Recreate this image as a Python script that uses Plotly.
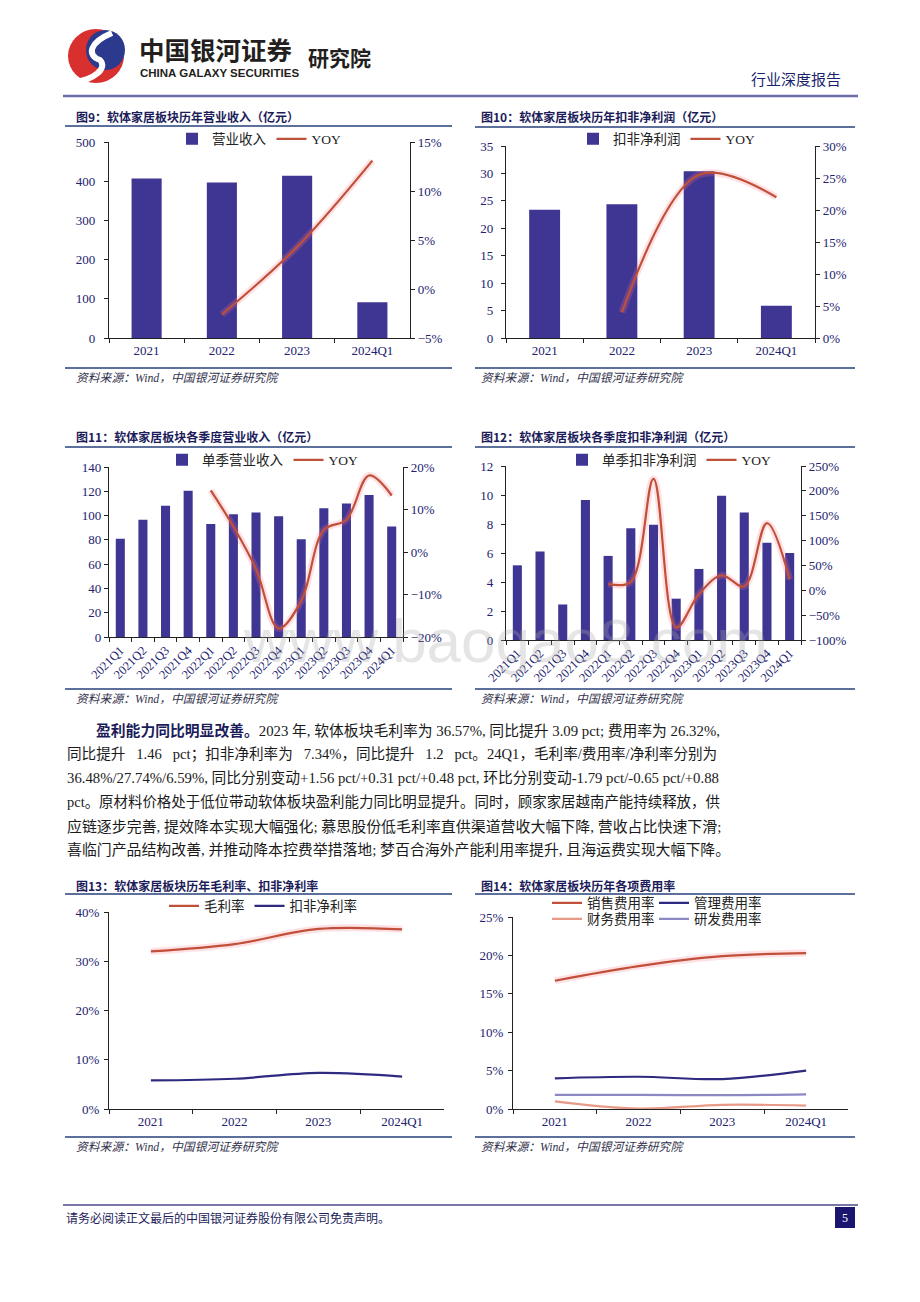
import plotly.graph_objects as go

# ---------------- data ----------------
years = ["2021", "2022", "2023", "2024Q1"]
revenue = [407, 397, 414, 91]
revenue_yoy = [-2.6, 4.3, 13.1]          # from 2022
profit = [23.4, 24.4, 30.4, 5.9]
profit_yoy = [4.0, 25.5, 22.0]           # from 2022

quarters = ["2021Q1", "2021Q2", "2021Q3", "2021Q4", "2022Q1", "2022Q2", "2022Q3",
            "2022Q4", "2023Q1", "2023Q2", "2023Q3", "2023Q4", "2024Q1"]
q_revenue = [81, 96.5, 108, 120.5, 93, 101, 102.5, 99.5, 80.5, 106, 110, 117, 91]
q_revenue_yoy = [14.5, 6.0, -4.0, -18.0, -11.5, 5.2, 7.6, 18.0, 13.3]   # from 2022Q1
q_profit = [5.15, 6.1, 2.45, 9.65, 5.8, 7.7, 7.95, 2.85, 4.9, 9.95, 8.8, 6.7, 6.0]
q_profit_yoy = [13, 17, 224, -75, -8, 30, 8, 135, 22]                   # from 2022Q1

gross_margin = [32.0, 33.48, 36.57, 36.48]
net_margin = [5.8, 6.14, 7.34, 6.59]

sales_rate = [16.7, 18.6, 19.9, 20.3]
admin_rate = [4.0, 4.2, 3.9, 5.0]
fin_rate = [1.0, 0.05, 0.55, 0.45]
rnd_rate = [1.85, 1.85, 1.8, 1.9]

titles = ["图9：软体家居板块历年营业收入（亿元）",
          "图10：软体家居板块历年扣非净利润（亿元）",
          "图11：软体家居板块各季度营业收入（亿元）",
          "图12：软体家居板块各季度扣非净利润（亿元）",
          "图13：软体家居板块历年毛利率、扣非净利率",
          "图14：软体家居板块历年各项费用率"]
source_text = "资料来源：Wind，中国银河证券研究院"

NB = "\u00a0"
body_lines = [
    "<b>盈利能力同比明显改善。</b>2023 年, 软体板块毛利率为 36.57%, 同比提升 3.09 pct; 费用率为 26.32%,",
    f"同比提升{NB*3}1.46{NB*3}pct；扣非净利率为{NB*3}7.34%，同比提升{NB*3}1.2{NB*3}pct。24Q1，毛利率/费用率/净利率分别为",
    "36.48%/27.74%/6.59%, 同比分别变动+1.56 pct/+0.31 pct/+0.48 pct, 环比分别变动-1.79 pct/-0.65 pct/+0.88",
    "pct。原材料价格处于低位带动软体板块盈利能力同比明显提升。同时，顾家家居越南产能持续释放，供",
    "应链逐步完善, 提效降本实现大幅强化; 慕思股份低毛利率直供渠道营收大幅下降, 营收占比快速下滑;",
    "喜临门产品结构改善, 并推动降本控费举措落地; 梦百合海外产能利用率提升, 且海运费实现大幅下降。",
]

# ---------------- helpers ----------------
W, H = 920, 1302
OFF = 8  # page body margin of the browser
def px(x): return (x - OFF) / W
def py(y): return 1 - (y - OFF) / H

SERIF = "Liberation Serif, Noto Sans CJK SC"
CJK = "Noto Sans CJK SC, Liberation Sans"
NAVY_TXT = "#22226e"
BAR = "#3F3592"
RED = "#C0503A"
BLUE = "#2D2A80"
GLOW = "rgba(255,120,130,0.22)"
AXC = "#222222"

def r(p, n): return p if n == 1 else f"{p}{n}"

fig = go.Figure()

# plot boxes (pixel): left, right, top, bottom
boxes = {
    1: (109, 410, 142, 338),
    2: (506, 815, 146, 338),
    3: (109, 403, 467, 637),
    4: (506, 801, 466, 640),
    5: (109, 444, 912, 1109),
    6: (513, 848, 917, 1109),
}
standoff = {1: 6, 2: 5, 3: 0, 4: 5, 5: 2, 6: 2}

layout = dict(width=W, height=H, margin=dict(l=0, r=0, t=0, b=0, pad=0, autoexpand=False),
              autosize=False, paper_bgcolor="white", plot_bgcolor="white", showlegend=True,
              bargap=0.6, shapes=[], annotations=[])

def base_axis():
    return dict(showline=True, linecolor=AXC, linewidth=1.2, ticks="outside", ticklen=4,
                tickcolor=AXC, tickwidth=1, showgrid=False, zeroline=False, automargin=False,
                tickfont=dict(family=SERIF, size=13, color=NAVY_TXT), fixedrange=True)

left_ranges = {1: (0, 500, 100, ""), 2: (0, 35, 5, ""), 3: (0, 140, 20, ""),
               4: (0, 12, 2, ""), 5: (0, 40, 10, "%"), 6: (0, 25, 5, "%")}
right_ranges = {1: (-5, 15, 5), 2: (0, 30, 5), 3: (-20, 20, 10), 4: (-100, 250, 50)}

for i, (L, R, T, B) in boxes.items():
    xa = base_axis()
    xa.update(domain=[px(L), px(R)], anchor=r("y", i), type="category", tickson="boundaries")
    if i in (3, 4):
        xa.update(tickangle=-45, tickfont=dict(family=SERIF, size=12.5, color=NAVY_TXT))
    if i in (5, 6):
        xa.update(range=[-0.5, 3.5])
    layout[r("xaxis", i)] = xa
    ya = base_axis()
    lo, hi, dt, suf = left_ranges[i]
    ya.update(domain=[py(B), py(T)], anchor=r("x", i), range=[lo, hi], dtick=dt, tick0=0,
              ticksuffix=suf, ticklabelstandoff=standoff[i])
    layout[r("yaxis", i)] = ya
    if i in right_ranges:
        ra = base_axis()
        lo, hi, dt = right_ranges[i]
        ra.update(overlaying=r("y", i), side="right", anchor=r("x", i), range=[lo, hi],
                  dtick=dt, tick0=0, ticksuffix="%")
        layout[r("yaxis", 6 + i)] = ra

def legend_cfg(x, y, ew=None):
    d = dict(x=px(x), y=py(y), xanchor="left", yanchor="middle", orientation="h",
             bgcolor="rgba(0,0,0,0)", font=dict(family=SERIF, size=13.5, color="#222222"),
             itemwidth=30, tracegroupgap=0, traceorder="normal", borderwidth=0)
    if ew:
        d.update(entrywidth=ew, entrywidthmode="pixels")
    return d

layout["legend"] = legend_cfg(172, 139)
layout["legend2"] = legend_cfg(573, 139)
layout["legend3"] = legend_cfg(162, 460)
layout["legend4"] = legend_cfg(562, 460)
layout["legend5"] = legend_cfg(164, 906)
layout["legend6"] = legend_cfg(547, 903, 62)
layout["legend7"] = legend_cfg(547, 919, 62)

def add_bar_line(i, cats, bars, bar_name, yoy_cats, yoy, leg):
    fig.add_trace(go.Bar(x=cats, y=bars, name=bar_name, marker_color=BAR, marker_line_width=0,
                         xaxis=r("x", i), yaxis=r("y", i), legend=leg))
    fig.add_trace(go.Scatter(x=yoy_cats, y=yoy, mode="lines", line=dict(color=GLOW, width=7, shape="spline", smoothing=1),
                             xaxis=r("x", i), yaxis=f"y{6 + i}", showlegend=False, hoverinfo="skip"))
    fig.add_trace(go.Scatter(x=yoy_cats, y=yoy, mode="lines", name="YOY",
                             line=dict(color=RED, width=2.2, shape="spline", smoothing=1),
                             xaxis=r("x", i), yaxis=f"y{6 + i}", legend=leg))

add_bar_line(1, years, revenue, "营业收入", years[1:], revenue_yoy, "legend")
add_bar_line(2, years, profit, "扣非净利润", years[1:], profit_yoy, "legend2")
add_bar_line(3, quarters, q_revenue, "单季营业收入", quarters[4:], q_revenue_yoy, "legend3")
add_bar_line(4, quarters, q_profit, "单季扣非净利润", quarters[4:], q_profit_yoy, "legend4")

def add_line(i, ys, name, color, leg, glow=False, width=2.2):
    if glow:
        fig.add_trace(go.Scatter(x=years, y=ys, mode="lines", line=dict(color=GLOW, width=7, shape="spline", smoothing=1),
                                 xaxis=r("x", i), yaxis=r("y", i), showlegend=False, hoverinfo="skip"))
    fig.add_trace(go.Scatter(x=years, y=ys, mode="lines", name=name,
                             line=dict(color=color, width=width, shape="spline", smoothing=1),
                             xaxis=r("x", i), yaxis=r("y", i), legend=leg))

add_line(5, gross_margin, "毛利率", RED, "legend5", glow=True)
add_line(5, net_margin, "扣非净利率", BLUE, "legend5")
add_line(6, sales_rate, "销售费用率", RED, "legend6", glow=True)
add_line(6, admin_rate, "管理费用率", BLUE, "legend6")
add_line(6, fin_rate, "财务费用率", "#E89A88", "legend7")
add_line(6, rnd_rate, "研发费用率", "#8C88C4", "legend7")

# ---------------- page decorations ----------------
shapes = layout["shapes"]
ann = layout["annotations"]

def hline(x0, x1, y, color, width):
    shapes.append(dict(type="line", xref="paper", yref="paper", x0=px(x0), x1=px(x1),
                       y0=py(y), y1=py(y), line=dict(color=color, width=width)))

def text(x, y, s, size, color, family=CJK, xanchor="left", yanchor="middle"):
    ann.append(dict(x=px(x), y=py(y), xref="paper", yref="paper", text=s, showarrow=False,
                    xanchor=xanchor, yanchor=yanchor, font=dict(family=family, size=size, color=color)))

# chart titles / rules / sources
frames = [  # title_x, title_y, rule_x0, rule_x1, rule_y, src_rule_y, src_y
    (74, 117, 65, 452, 126, 368, 378),
    (479, 117, 475, 855, 127, 368, 378),
    (74, 437, 65, 452, 447, 689, 699),
    (479, 437, 475, 855, 447, 689, 699),
    (74, 885, 65, 452, 894, 1137, 1147),
    (479, 885, 475, 855, 894, 1137, 1147),
]
for t, (tx, ty, rx0, rx1, ry, sry, sy) in zip(titles, frames):
    text(tx, ty, "<b>" + t + "</b>", 12, "#1c1c5a")
    hline(rx0, rx1, ry, "#26407a", 1.6)
    hline(rx0, rx1, sry, "#26407a", 1.6)
    text(tx, sy, "<i>" + source_text + "</i>", 11.8, "#33334d", family=SERIF)

# header
hline(63, 858, 96, "#6B6BA8", 2.5)
text(137, 49, "<b>中国银河证券</b>", 25.5, "#231f20")
text(138, 73, "<b>CHINA GALAXY SECURITIES</b>", 11.5, "#231f20",
     family="Liberation Sans Narrow, Liberation Sans")
text(306, 57, "<b>研究院</b>", 21, "#231f20")
text(843, 79, "行业深度报告", 15, "#1a1f6e", xanchor="right")

# logo (approximation)
def circ(x0, y0, x1, y1, color):
    shapes.append(dict(type="circle", xref="paper", yref="paper", x0=px(x0), x1=px(x1),
                       y0=py(y1), y1=py(y0), fillcolor=color, line=dict(width=0)))
circ(68, 29, 124, 83, "#D8302F")
circ(86, 30, 125, 70, "#2B3A8C")
pts = [(112, 33), (90, 42), (86, 55), (100, 60), (108, 68), (94, 80), (74, 82)]
path = "M{:.5f},{:.5f}".format(px(pts[0][0]), py(pts[0][1]))
path += " C{:.5f},{:.5f} {:.5f},{:.5f} {:.5f},{:.5f}".format(px(pts[1][0]), py(pts[1][1]), px(pts[2][0]), py(pts[2][1]), px(pts[3][0]), py(pts[3][1]))
path += " C{:.5f},{:.5f} {:.5f},{:.5f} {:.5f},{:.5f}".format(px(pts[4][0]), py(pts[4][1]), px(pts[5][0]), py(pts[5][1]), px(pts[6][0]), py(pts[6][1]))
shapes.append(dict(type="path", xref="paper", yref="paper", path=path,
                   line=dict(color="white", width=6)))

# body text (per-line size to approximate the justified block)
body_y = [730, 754, 778, 802, 826, 850]
body_size = [14.8, 14.6, 14.75, 14.45, 14.95, 14.9]
for k, (line, yy, sz) in enumerate(zip(body_lines, body_y, body_size)):
    text(94 if k == 0 else 65, yy, line, sz, "#1a1a1a", family=SERIF)
ann[-6]["text"] = ann[-6]["text"].replace("<b>", "<b><span style='color:#1c1c5a'>").replace("</b>", "</span></b>")

# watermark
text(505, 640, "www.baogao8.com", 62, "rgba(170,170,170,0.3)", family="Liberation Sans", xanchor="center")

# footer
hline(63, 858, 1205, "#4B4A8A", 1.5)
text(64, 1218, "请务必阅读正文最后的中国银河证券股份有限公司免责声明。", 12, "#1c1c5a", family=SERIF)
shapes.append(dict(type="rect", xref="paper", yref="paper", x0=px(835), x1=px(855),
                   y0=py(1228), y1=py(1207), fillcolor="#1a1670", line=dict(width=0)))
text(845, 1218, "5", 12, "white", family=SERIF, xanchor="center")

fig.update_layout(**layout)
fig.write_html("out.html")
